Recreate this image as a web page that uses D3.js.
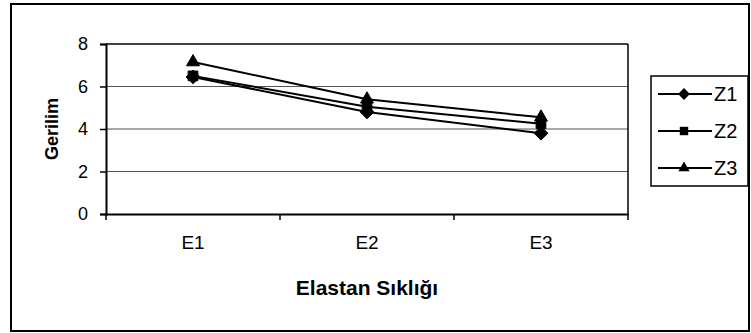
<!DOCTYPE html>
<html>
<head>
<meta charset="utf-8">
<script src="https://cdn.jsdelivr.net/npm/d3@7"></script>
<style>
  body { margin: 0; background: #fff; }
  text { font-family: "Liberation Sans", Arial, sans-serif; }
</style>
</head>
<body>
<div id="viz"></div>
<script>
// data
const categories = ["E1", "E2", "E3"]
const seriesNames = ["Z1", "Z2", "Z3"]
const z1 = [6.45, 4.8, 3.8]
const z2 = [6.5, 5.05, 4.25]
const z3 = [7.15, 5.4, 4.55]
const yTicks = [0, 2, 4, 6, 8]

const width = 751
const height = 333
const plot = { left: 106, top: 44, right: 628, bottom: 214 }

const svg = d3.select("#viz").append("svg")
    .attr("width", width)
    .attr("height", height)

// outer frame
svg.append("rect")
    .attr("x", 11).attr("y", 4)
    .attr("width", 738).attr("height", 327)
    .attr("fill", "#fff")
    .attr("stroke", "#000")
    .attr("stroke-width", 2)

const x = d3.scaleBand().domain(categories).range([plot.left, plot.right])
const y = d3.scaleLinear().domain([0, 8]).range([plot.bottom, plot.top])

// gridlines
svg.append("g")
    .selectAll("line")
    .data(yTicks.filter(d => d > 0))
    .join("line")
    .attr("x1", plot.left).attr("x2", plot.right)
    .attr("y1", d => y(d)).attr("y2", d => y(d))
    .attr("stroke", d => d === 8 ? "#000" : "#555")
    .attr("stroke-width", d => d === 8 ? 1.5 : 1)

// right border of plot area
svg.append("line")
    .attr("x1", plot.right).attr("x2", plot.right)
    .attr("y1", plot.top).attr("y2", plot.bottom)
    .attr("stroke", "#000").attr("stroke-width", 1.5)

// y axis
const yAxis = svg.append("g")
    .attr("transform", `translate(${plot.left},0)`)
    .call(d3.axisLeft(y).tickValues(yTicks).tickSize(6).tickPadding(12))
yAxis.select(".domain").attr("stroke-width", 2)
yAxis.selectAll(".tick line").attr("stroke-width", 1.5)
yAxis.selectAll("text").attr("font-size", 18).attr("fill", "#000")
    .attr("font-family", "'Liberation Sans', Arial, sans-serif")

// x axis: ticks at category boundaries
const xAxis = svg.append("g")
    .attr("transform", `translate(0,${plot.bottom})`)
    .call(d3.axisBottom(x).tickSize(0).tickPadding(22))
xAxis.select(".domain").attr("stroke-width", 2)
xAxis.selectAll("text").attr("font-size", 19).attr("fill", "#000")
    .attr("font-family", "'Liberation Sans', Arial, sans-serif")

const bounds = categories.map(c => x(c)).concat([plot.right])
svg.append("g")
    .selectAll("line")
    .data(bounds)
    .join("line")
    .attr("x1", d => d).attr("x2", d => d)
    .attr("y1", plot.bottom).attr("y2", plot.bottom + 6)
    .attr("stroke", "#000").attr("stroke-width", 1.5)

// axis titles
svg.append("text")
    .attr("x", (plot.left + plot.right) / 2)
    .attr("y", 295)
    .attr("text-anchor", "middle")
    .attr("font-size", 21)
    .attr("font-weight", "bold")
    .text("Elastan Sıklığı")

svg.append("text")
    .attr("transform", `translate(58,${(plot.top + plot.bottom) / 2}) rotate(-90)`)
    .attr("text-anchor", "middle")
    .attr("font-size", 18)
    .attr("font-weight", "bold")
    .text("Gerilim")

// series
const series = [
    { name: seriesNames[0], values: z1, symbol: d3.symbolDiamond2 },
    { name: seriesNames[1], values: z2, symbol: d3.symbolSquare2 },
    { name: seriesNames[2], values: z3, symbol: d3.symbolTriangle2 }
]
const cx = c => x(c) + x.bandwidth() / 2

const line = d3.line()
    .x((d, i) => cx(categories[i]))
    .y(d => y(d))

series.forEach(s => {
    svg.append("path")
        .attr("d", line(s.values))
        .attr("fill", "none")
        .attr("stroke", "#000")
        .attr("stroke-width", 2)
})

series.forEach(s => {
    svg.append("g")
        .selectAll("path")
        .data(s.values)
        .join("path")
        .attr("transform", (d, i) => `translate(${cx(categories[i])},${y(d)})`)
        .attr("d", d3.symbol().type(s.symbol).size(120))
        .attr("fill", "#000")
        .attr("stroke", "#000")
        .attr("stroke-width", 1)
})

// legend
const legend = svg.append("g")
legend.append("rect")
    .attr("x", 651).attr("y", 76)
    .attr("width", 97).attr("height", 110)
    .attr("fill", "#fff")
    .attr("stroke", "#000")
    .attr("stroke-width", 1.5)

series.forEach((s, i) => {
    const ly = 94 + i * 37
    legend.append("line")
        .attr("x1", 658).attr("x2", 712)
        .attr("y1", ly).attr("y2", ly)
        .attr("stroke", "#000").attr("stroke-width", 2)
    legend.append("path")
        .attr("transform", `translate(684,${ly})`)
        .attr("d", d3.symbol().type(s.symbol).size(90))
        .attr("fill", "#000")
    legend.append("text")
        .attr("x", 714).attr("y", ly + 7)
        .attr("font-size", 20)
        .text(s.name)
})
</script>
</body>
</html>
